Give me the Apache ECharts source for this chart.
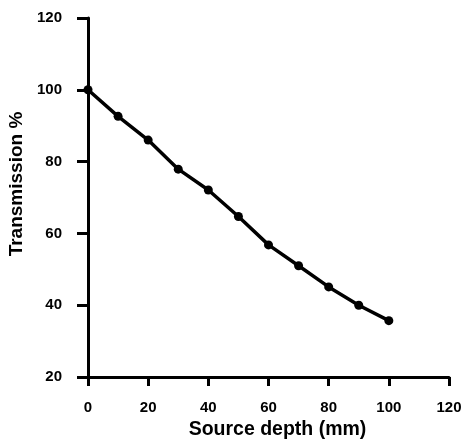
<!DOCTYPE html>
<html>
<head>
<meta charset="utf-8">
<script src="https://cdn.jsdelivr.net/npm/echarts@6/dist/echarts.min.js"></script>
<style>html,body{margin:0;padding:0;background:#fff;}#c{width:462px;height:441px;}</style>
</head>
<body>
<div id="c"></div>
<script>
const depth = [0, 10, 20, 30, 40, 50, 60, 70, 80, 90, 100];
const transmission = [100, 92.6, 86.0, 77.9, 72.1, 64.7, 56.8, 51.0, 45.1, 40.0, 35.7];
const xTicks = [0, 20, 40, 60, 80, 100, 120];
const yTicks = [20, 40, 60, 80, 100, 120];

const chart = echarts.init(document.getElementById('c'));
const font = 'Liberation Sans, Arial, Helvetica, sans-serif';
chart.setOption({
  animation: false,
  backgroundColor: '#fff',
  grid: { left: 88, right: 13, top: 18, bottom: 64, containLabel: false, outerBoundsMode: 'none' },
  xAxis: {
    type: 'value', min: xTicks[0], max: xTicks[xTicks.length - 1], interval: 20,
    name: 'Source depth (mm)', nameLocation: 'middle', nameGap: 43,
    nameTextStyle: { fontFamily: font, fontSize: 19.5, color: '#000', fontWeight: 'bold', padding: [0, 0, 0, 18] },
    axisLine: { onZero: false, lineStyle: { color: '#000', width: 3 } },
    axisTick: { show: true, length: 9, lineStyle: { color: '#000', width: 3 } },
    axisLabel: { margin: 23, fontFamily: font, fontSize: 15, fontWeight: 'bold', color: '#000' },
    splitLine: { show: false }
  },
  yAxis: {
    type: 'value', min: yTicks[0], max: yTicks[yTicks.length - 1], interval: 20,
    name: 'Transmission %', nameLocation: 'middle', nameGap: 61,
    nameTextStyle: { fontFamily: font, fontSize: 19, color: '#000', fontWeight: 'bold', padding: [0, 0, 0, 27] },
    axisLine: { onZero: false, lineStyle: { color: '#000', width: 3 } },
    axisTick: { show: true, length: 11, lineStyle: { color: '#000', width: 3 } },
    axisLabel: { margin: 26, fontFamily: font, fontSize: 15, fontWeight: 'bold', color: '#000' },
    splitLine: { show: false }
  },
  series: [{
    type: 'line',
    data: depth.map((d, i) => [d, transmission[i]]),
    symbol: 'circle', symbolSize: 9,
    itemStyle: { color: '#000' },
    lineStyle: { color: '#000', width: 3.5 }
  }]
});
</script>
</body>
</html>
